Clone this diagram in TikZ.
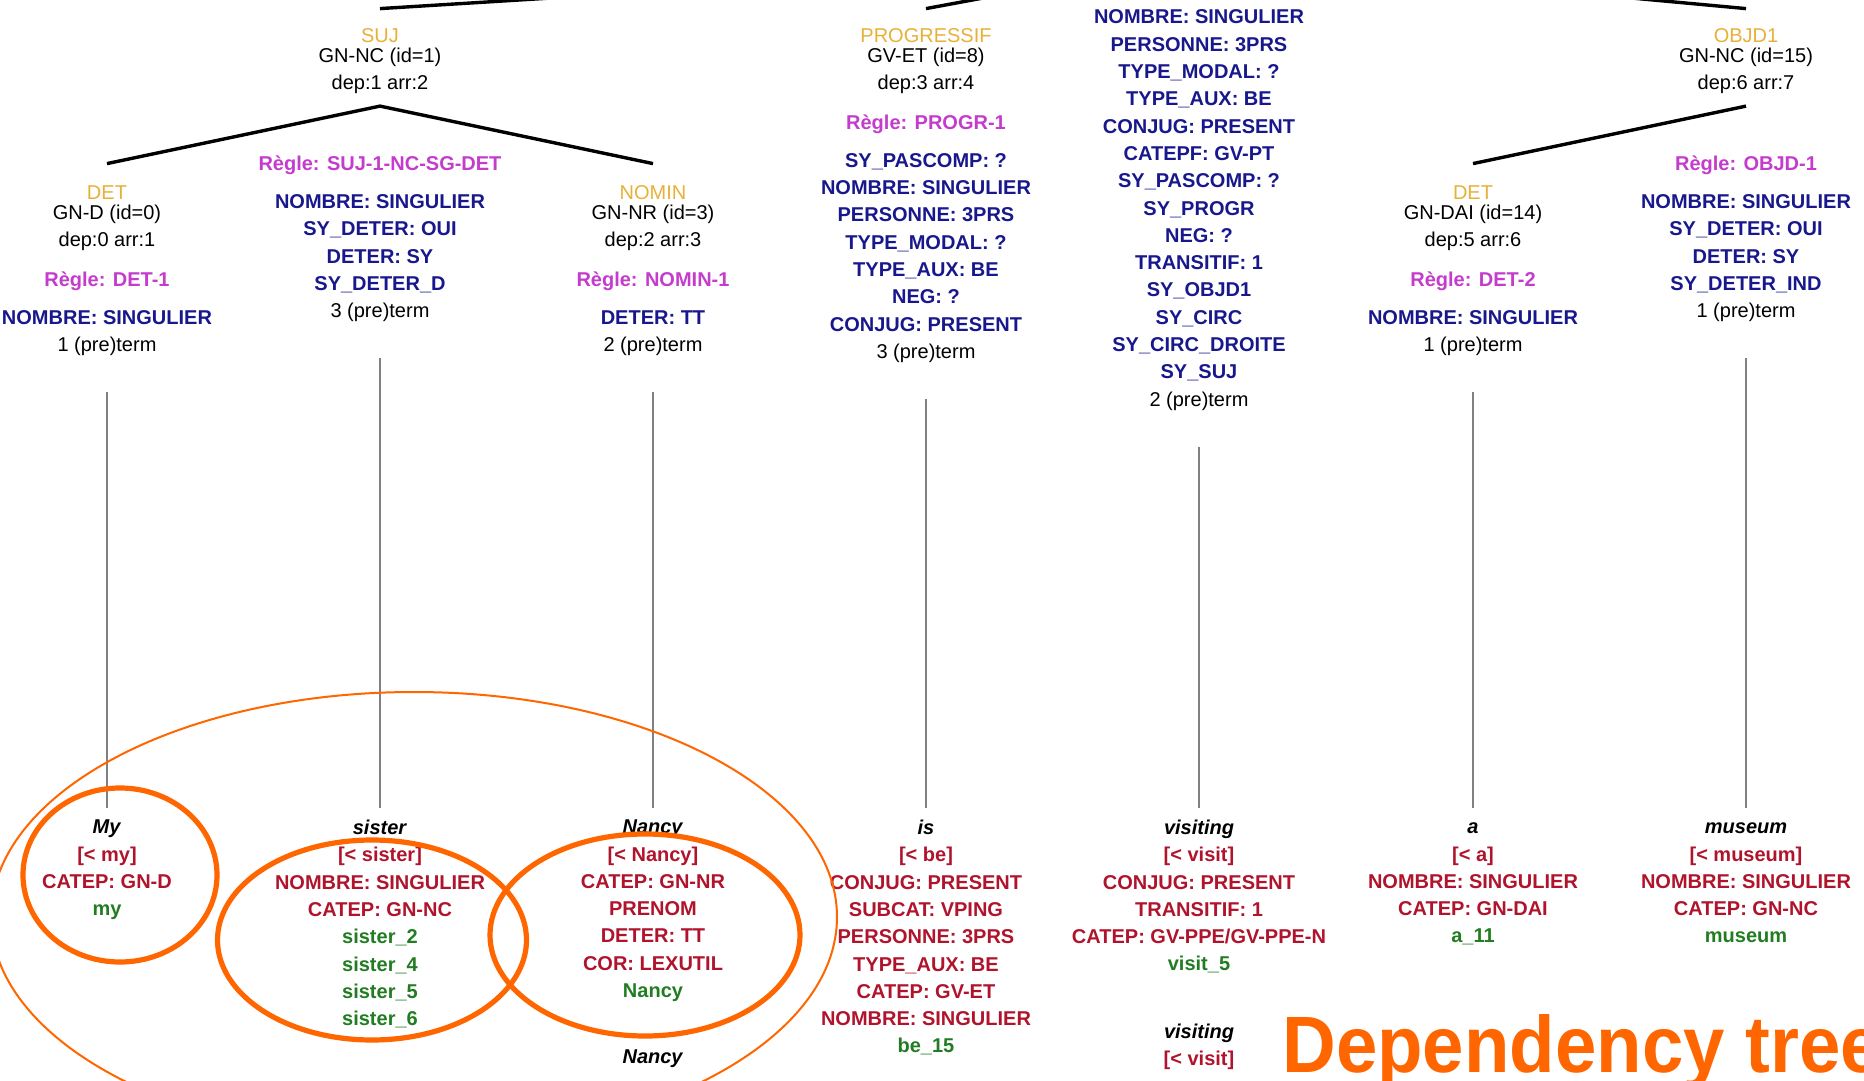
\documentclass[tikz,border=0pt]{standalone}
\usepackage{fontspec}
\setmainfont{Liberation Sans}
\usepackage{graphicx}

\definecolor{flabcol}{RGB}{232,176,56}
\definecolor{rlabcol}{RGB}{196,60,204}
\definecolor{featcol}{RGB}{24,24,140}
\definecolor{lexcol}{RGB}{176,20,44}
\definecolor{tidcol}{RGB}{34,124,34}
\definecolor{hl}{RGB}{255,102,0}

\newcommand\flab[1]{\textcolor{flabcol}{#1}}
\newcommand\rlab[1]{\textcolor{rlabcol}{\bfseries #1}}
\newcommand\feat[1]{\textcolor{featcol}{\bfseries #1}}
\newcommand\lex[1]{\textcolor{lexcol}{\bfseries #1}}
\newcommand\tid[1]{\textcolor{tidcol}{\bfseries #1}}
\newcommand\word[1]{\textit{\bfseries\vphantom{M}#1}}

\tikzset{
  blk/.style={inner sep=0pt,align=center,anchor=north,font=\fontsize{10}{13.65}\selectfont},
  branch/.style={line width=1.7pt},
  leaf/.style={draw=gray,line width=0.6pt,shorten <=18pt,shorten >=5.8pt},
  ring/.style={draw=hl,line width=2.6pt},
}

\begin{document}
\begin{tikzpicture}[x=0.5pt,y=-0.5pt]
\useasboundingbox (0,0) rectangle (1864,1081);
\clip (0,0) rectangle (1864,1081);

% upper part of the tree
\node[blk] (suj) at (380,28.6) {\flab{SUJ}\\[-4pt] GN-NC (id=1)\\ dep:1 arr:2};
\node[blk] (sujrule) at (380,155.6) {\rlab{Règle: SUJ-1-NC-SG-DET}\\[5.3pt] \feat{NOMBRE: SINGULIER}\\ \feat{SY\_DETER: OUI}\\ \feat{DETER: SY}\\ \feat{SY\_DETER\_D}\\ 3 (pre)term};
\node[blk] (det) at (107,185.6) {\flab{DET}\\[-4pt] GN-D (id=0)\\ dep:0 arr:1\\[6.3pt] \rlab{Règle: DET-1}\\[5.3pt] \feat{NOMBRE: SINGULIER}\\ 1 (pre)term};
\node[blk] (nomin) at (653,185.6) {\flab{NOMIN}\\[-4pt] GN-NR (id=3)\\ dep:2 arr:3\\[6.3pt] \rlab{Règle: NOMIN-1}\\[5.3pt] \feat{DETER: TT}\\ 2 (pre)term};
\node[blk] (progr) at (926,28.6) {\flab{PROGRESSIF}\\[-4pt] GV-ET (id=8)\\ dep:3 arr:4\\[6.3pt] \rlab{Règle: PROGR-1}\\[5.3pt] \feat{SY\_PASCOMP: ?}\\ \feat{NOMBRE: SINGULIER}\\ \feat{PERSONNE: 3PRS}\\ \feat{TYPE\_MODAL: ?}\\ \feat{TYPE\_AUX: BE}\\ \feat{NEG: ?}\\ \feat{CONJUG: PRESENT}\\ 3 (pre)term};
\node[blk] (root) at (1199,9.6) {\feat{NOMBRE: SINGULIER}\\ \feat{PERSONNE: 3PRS}\\ \feat{TYPE\_MODAL: ?}\\ \feat{TYPE\_AUX: BE}\\ \feat{CONJUG: PRESENT}\\ \feat{CATEPF: GV-PT}\\ \feat{SY\_PASCOMP: ?}\\ \feat{SY\_PROGR}\\ \feat{NEG: ?}\\ \feat{TRANSITIF: 1}\\ \feat{SY\_OBJD1}\\ \feat{SY\_CIRC}\\ \feat{SY\_CIRC\_DROITE}\\ \feat{SY\_SUJ}\\ 2 (pre)term};
\node[blk] (detb) at (1473,185.6) {\flab{DET}\\[-4pt] GN-DAI (id=14)\\ dep:5 arr:6\\[6.3pt] \rlab{Règle: DET-2}\\[5.3pt] \feat{NOMBRE: SINGULIER}\\ 1 (pre)term};
\node[blk] (objd) at (1746,28.6) {\flab{OBJD1}\\[-4pt] GN-NC (id=15)\\ dep:6 arr:7};
\node[blk] (objdrule) at (1746,155.6) {\rlab{Règle: OBJD-1}\\[5.3pt] \feat{NOMBRE: SINGULIER}\\ \feat{SY\_DETER: OUI}\\ \feat{DETER: SY}\\ \feat{SY\_DETER\_IND}\\ 1 (pre)term};

% words
\node[blk] (my) at (107,819.6) {\word{My}\\ \lex{[< my]}\\ \lex{CATEP: GN-D}\\ \tid{my}};
\node[blk] (sister) at (380,819.6) {\word{sister}\\ \lex{[< sister]}\\ \lex{NOMBRE: SINGULIER}\\ \lex{CATEP: GN-NC}\\ \tid{sister\_2}\\ \tid{sister\_4}\\ \tid{sister\_5}\\ \tid{sister\_6}};
\node[blk] (nancy) at (653,819.6) {\word{Nancy}\\ \lex{[< Nancy]}\\ \lex{CATEP: GN-NR}\\ \lex{PRENOM}\\ \lex{DETER: TT}\\ \lex{COR: LEXUTIL}\\ \tid{Nancy}};
\node[blk] (nancyb) at (653,1049.6) {\word{Nancy}};
\node[blk] (is) at (926,819.6) {\word{is}\\ \lex{[< be]}\\ \lex{CONJUG: PRESENT}\\ \lex{SUBCAT: VPING}\\ \lex{PERSONNE: 3PRS}\\ \lex{TYPE\_AUX: BE}\\ \lex{CATEP: GV-ET}\\ \lex{NOMBRE: SINGULIER}\\ \tid{be\_15}};
\node[blk] (visiting) at (1199,819.6) {\word{visiting}\\ \lex{[< visit]}\\ \lex{CONJUG: PRESENT}\\ \lex{TRANSITIF: 1}\\ \lex{CATEP: GV-PPE/GV-PPE-N}\\ \tid{visit\_5}};
\node[blk] (visitingb) at (1199,1023.6) {\word{visiting}\\ \lex{[< visit]}};
\node[blk] (a) at (1473,819.6) {\word{a}\\ \lex{[< a]}\\ \lex{NOMBRE: SINGULIER}\\ \lex{CATEP: GN-DAI}\\ \tid{a\_11}};
\node[blk] (museum) at (1746,819.6) {\word{museum}\\ \lex{[< museum]}\\ \lex{NOMBRE: SINGULIER}\\ \lex{CATEP: GN-NC}\\ \tid{museum}};

% branches
\coordinate (top) at (1199,-42);
\coordinate (sujapex) at ([yshift=-6pt]suj.south);
\coordinate (objdapex) at ([yshift=-6pt]objd.south);
\draw[branch] (top) -- ([yshift=10pt]suj.north);
\draw[branch] (top) -- ([yshift=10pt]progr.north);
\draw[branch] (top) -- ([yshift=10pt]objd.north);
\draw[branch] ([yshift=11pt]det.north) -- (sujapex) -- ([yshift=11pt]nomin.north);
\draw[branch] (objdapex) -- ([yshift=11pt]detb.north);

\draw[leaf] (det) -- (my);
\draw[leaf] (sujrule) -- (sister);
\draw[leaf] (nomin) -- (nancy);
\draw[leaf] (progr) -- (is);
\draw[leaf] (root) -- (visiting);
\draw[leaf] (detb) -- (a);
\draw[leaf] (objdrule) -- (museum);

% highlights
\draw[draw=hl,line width=1pt] (414,917) ellipse [x radius=211.5pt,y radius=112.5pt];
\draw[ring] (120,875) ellipse [x radius=48.5pt,y radius=43.5pt];
\draw[ring] (372,940) ellipse [x radius=77.25pt,y radius=50pt];
\draw[ring] (645,935) ellipse [x radius=77.5pt,y radius=50.5pt];

\node[anchor=base west,inner sep=0pt,text=hl,font=\bfseries\fontsize{40}{48}\selectfont] (title) at (1282,1072) {\scalebox{0.93}[1]{Dependency tree}};
\end{tikzpicture}
\end{document}
